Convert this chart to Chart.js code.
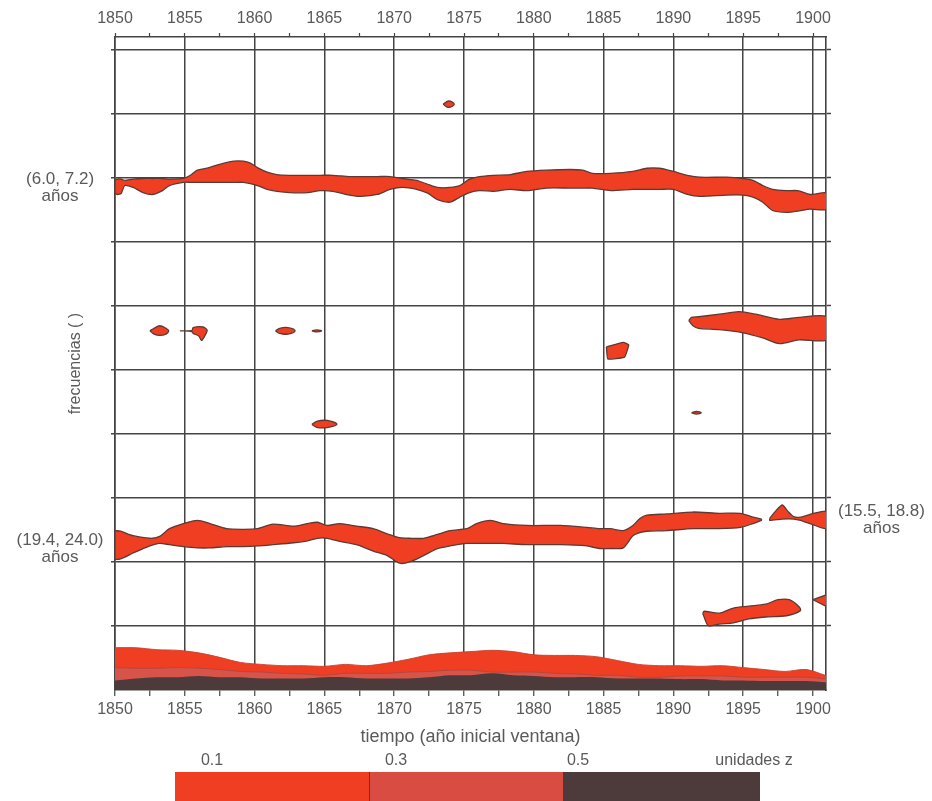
<!DOCTYPE html>
<html>
<head>
<meta charset="utf-8">
<script src="https://cdn.jsdelivr.net/npm/chart.js@4.4.1/dist/chart.umd.min.js"></script>
<style>
html,body{margin:0;padding:0;background:#fff;}
#wrap{position:relative;width:932px;height:801px;overflow:hidden;background:#fff;}
#c{position:absolute;left:0;top:0;}
.lbl{position:absolute;font-family:"Liberation Sans",Arial,sans-serif;font-size:16px;color:#5a5a5a;line-height:16px;transform:translate(-50%,-50%);white-space:nowrap;}
.seg{position:absolute;top:772px;height:40px;}
</style>
</head>
<body>
<div id="wrap">
<canvas id="c" width="932" height="801"></canvas>
<div class="seg" style="left:175px;width:194px;background:#f03e22"></div>
<div class="seg" style="left:369px;width:194px;background:#d84c42;border-left:1px solid #5a3a34"></div>
<div class="seg" style="left:563px;width:197px;background:#4d3a3a"></div>
<div class="lbl" style="left:212px;top:760px">0.1</div>
<div class="lbl" style="left:396px;top:760px">0.3</div>
<div class="lbl" style="left:578px;top:760px">0.5</div>
<div class="lbl" style="left:754px;top:760px">unidades z</div>
</div>
<script>
// ---------- axis ticks ----------
const xTickYears = [1850,1852.5,1855,1857.5,1860,1862.5,1865,1867.5,1870,1872.5,1875,1877.5,1880,1882.5,1885,1887.5,1890,1892.5,1895,1897.5,1900];
const xLabelYears = [1850,1855,1860,1865,1870,1875,1880,1885,1890,1895,1900];
const yGridValues = [1,2,3,4,5,6,7,8,9,10];
const leftLabelPos = [7.84, 2.21];
const leftLabels = [['(6.0, 7.2)','años'], ['(19.4, 24.0)','años']];
const rightLabelPos = [2.655];
const rightLabels = [['(15.5, 18.8)','años']];

// ---------- band (6.0, 7.2) años ----------
const yrs6 = [1850.0,1850.15,1850.45,1850.7,1851.3,1852.0,1852.7,1853.4,1853.9,1854.9,1855.4,1855.9,1856.6,1857.3,1858.5,1859.2,1859.7,1860.2,1860.9,1861.6,1862.5,1863.8,1864.7,1865.6,1866.8,1867.6,1868.8,1869.7,1870.6,1871.6,1872.4,1873.1,1874.0,1874.7,1875.4,1876.1,1877.1,1878.3,1879.5,1880.9,1882.6,1883.5,1884.2,1885.5,1887.1,1888.1,1889.0,1890.0,1891.0,1891.9,1893.8,1895.0,1895.7,1896.4,1897.1,1898.1,1898.9,1899.8,1901.0];
const up6 = [7.96,7.98,7.98,7.96,7.98,7.99,7.99,7.99,7.98,7.99,8.04,8.12,8.15,8.20,8.26,8.26,8.23,8.16,8.09,8.05,8.04,8.04,8.04,8.04,8.02,8.02,8.02,8.02,7.99,7.96,7.90,7.85,7.85,7.88,7.98,8.02,8.04,8.05,8.10,8.12,8.13,8.12,8.07,8.07,8.10,8.15,8.15,8.10,8.04,8.01,8.01,7.99,7.96,7.88,7.82,7.80,7.80,7.74,7.76];
const lo6 = [7.78,7.74,7.76,7.88,7.85,7.77,7.74,7.80,7.88,7.93,7.93,7.93,7.93,7.93,7.93,7.93,7.91,7.88,7.82,7.79,7.77,7.77,7.80,7.79,7.73,7.71,7.74,7.82,7.85,7.82,7.76,7.66,7.62,7.70,7.77,7.80,7.79,7.82,7.80,7.84,7.84,7.84,7.84,7.80,7.82,7.82,7.82,7.82,7.74,7.71,7.73,7.73,7.70,7.62,7.49,7.46,7.48,7.51,7.51];

// ---------- band (19.4, 24.0) años ----------
const yrs19 = [1850.0,1850.4,1851.3,1852.5,1853.2,1853.9,1854.9,1855.9,1856.8,1858.0,1859.2,1860.2,1861.3,1862.8,1863.8,1864.5,1865.2,1866.1,1867.3,1868.5,1869.5,1870.4,1871.1,1872.1,1873.1,1874.0,1875.2,1875.9,1876.9,1877.8,1879.5,1881.9,1883.8,1884.7,1885.5,1886.4,1887.1,1887.6,1888.1,1889.5,1891.4,1893.3,1894.8,1895.7,1896.3];
const up19 = [2.49,2.48,2.41,2.37,2.40,2.52,2.60,2.65,2.60,2.52,2.51,2.52,2.59,2.56,2.60,2.62,2.57,2.60,2.56,2.52,2.44,2.38,2.37,2.37,2.43,2.49,2.52,2.60,2.65,2.60,2.57,2.57,2.54,2.52,2.52,2.49,2.57,2.68,2.73,2.75,2.78,2.76,2.76,2.70,2.67];
const lo19 = [2.05,2.05,2.14,2.25,2.29,2.27,2.24,2.22,2.22,2.24,2.24,2.25,2.27,2.30,2.33,2.37,2.37,2.32,2.27,2.17,2.10,1.98,2.00,2.10,2.21,2.25,2.29,2.29,2.29,2.29,2.27,2.27,2.25,2.21,2.21,2.22,2.41,2.46,2.48,2.49,2.52,2.52,2.54,2.60,2.65];

// ---------- (15.5, 18.8) años patch ----------
const triX = [1896.9,1897.3,1897.8,1898.2,1898.6,1899.1,1899.9,1901.0,1901.0,1899.9,1899.1,1898.6,1897.8,1896.9];
const triY = [2.68,2.79,2.89,2.79,2.71,2.70,2.75,2.79,2.52,2.59,2.65,2.67,2.67,2.65];

// ---------- lower right patches ----------
const lowBlobX = [1892.1,1892.2,1893.3,1894.3,1895.4,1896.6,1897.5,1898.3,1899.0,1899.1,1898.1,1896.6,1895.4,1894.3,1893.3,1892.6,1892.4];
const lowBlobY = [1.20,1.23,1.20,1.28,1.31,1.34,1.41,1.41,1.30,1.24,1.16,1.14,1.11,1.05,1.03,1.00,1.03];
const wedgeX = [1900.0,1901.0,1901.0];
const wedgeY = [1.41,1.49,1.30];

// ---------- upper right patch and small islands ----------
const gX = [1891.1,1891.3,1891.8,1893.3,1894.7,1895.9,1897.6,1899.0,1901.0,1901.0,1899.0,1897.6,1896.4,1895.0,1893.3,1891.8,1891.4];
const gY = [5.77,5.82,5.83,5.87,5.91,5.87,5.79,5.82,5.83,5.47,5.47,5.41,5.50,5.58,5.63,5.65,5.69];
const fX = [1885.2,1886.4,1886.8,1886.5,1885.3];
const fY = [5.36,5.43,5.39,5.20,5.17];
const aX = [1852.5,1852.8,1853.2,1853.65,1853.85,1853.65,1853.2,1852.8];
const aY = [5.61,5.65,5.69,5.65,5.61,5.56,5.54,5.56];
const bX = [1854.65,1855.5,1855.6,1856.3,1856.6,1856.4,1856.2,1856.0,1855.6,1855.5];
const bY = [5.61,5.615,5.66,5.67,5.62,5.52,5.46,5.53,5.57,5.60];
const cX = [1861.5,1861.8,1862.4,1862.9,1862.4,1861.8];
const cY = [5.61,5.65,5.66,5.61,5.56,5.57];
const dX = [1864.1,1864.45,1864.8,1864.45];
const dY = [5.61,5.625,5.61,5.595];
const eX = [1864.1,1864.5,1865.2,1865.9,1865.2,1864.5];
const eY = [4.15,4.20,4.21,4.15,4.10,4.10];
const hX = [1891.3,1891.65,1892.0,1891.65];
const hY = [4.33,4.35,4.33,4.31];
const iX = [1873.5,1873.9,1874.3,1873.9];
const iY = [9.15,9.20,9.15,9.10];

// ---------- low-frequency band (three z levels) ----------
const yrsBase = [1850,1851.5,1853,1854.5,1856,1857.5,1859,1860.5,1862,1863.5,1865,1866.5,1868,1869.5,1871,1872.5,1874,1875.5,1877,1878.5,1880,1881.5,1883,1884.5,1886,1887.5,1889,1890.5,1892,1893.5,1895,1896.5,1898,1899.5,1901];
const redTop = [0.66,0.66,0.63,0.62,0.58,0.51,0.43,0.40,0.38,0.38,0.37,0.40,0.38,0.42,0.48,0.55,0.58,0.60,0.62,0.60,0.55,0.54,0.54,0.52,0.46,0.40,0.38,0.38,0.37,0.38,0.35,0.32,0.29,0.32,0.22];
const midTop = [0.35,0.34,0.34,0.35,0.34,0.32,0.29,0.28,0.26,0.25,0.23,0.26,0.26,0.26,0.28,0.29,0.31,0.31,0.28,0.28,0.28,0.26,0.25,0.23,0.23,0.20,0.20,0.22,0.22,0.22,0.20,0.20,0.20,0.20,0.17];
const darkTop = [0.15,0.18,0.20,0.20,0.22,0.20,0.20,0.18,0.18,0.18,0.20,0.20,0.18,0.18,0.18,0.20,0.23,0.23,0.26,0.23,0.22,0.20,0.20,0.20,0.18,0.18,0.18,0.17,0.17,0.15,0.15,0.14,0.14,0.14,0.12];

// ---------- styles ----------
const FONT = '"Liberation Sans", Arial, sans-serif';
const textColor = '#5a5a5a';
const gridColor = '#444444';
const redFill = '#f03e22';
const midFill = '#d8544a';
const darkFill = '#4d3a3a';
const edgeColor = '#5e3a32';
const clear = 'rgba(0,0,0,0)';

function pts(xs, ys) { return xs.map((x, i) => ({x: x, y: ys[i]})); }
function ring(xs, ys) { const p = pts(xs, ys); p.push({x: xs[0], y: ys[0]}); return p; }
function band(xs, up, lo) {
  const p = pts(xs, up);
  for (let i = xs.length - 1; i >= 0; i--) p.push({x: xs[i], y: lo[i]});
  p.push({x: xs[0], y: up[0]});
  return p;
}
function shape(data, tension) {
  return {data: data, fill: 'shape', backgroundColor: redFill, borderColor: edgeColor,
          borderWidth: 1.3, pointRadius: 0, tension: tension, order: 4};
}
function levelDs(xs, ys, color, order, bw, bc) {
  return {data: pts(xs, ys), fill: 'origin', backgroundColor: color, borderColor: bc || color,
          borderWidth: bw, pointRadius: 0, tension: 0.3, order: order};
}

const datasets = [
  levelDs(yrsBase, darkTop, darkFill, 1, 0),
  levelDs(yrsBase, midTop, midFill, 2, 1, '#b4473d'),
  levelDs(yrsBase, redTop, redFill, 3, 0.9, '#c4432e'),
  shape(band(yrs6, up6, lo6), 0.25),
  shape(band(yrs19, up19, lo19), 0.25),
  shape(ring(triX, triY), 0.2),
  shape(ring(lowBlobX, lowBlobY), 0.3),
  shape(ring(wedgeX, wedgeY), 0),
  shape(ring(gX, gY), 0.25),
  shape(ring(fX, fY), 0.1),
  shape(ring(aX, aY), 0.4),
  shape(ring(bX, bY), 0.3),
  shape(ring(cX, cY), 0.4),
  shape(ring(dX, dY), 0.4),
  shape(ring(eX, eY), 0.4),
  shape(ring(hX, hY), 0.4),
  shape(ring(iX, iY), 0.4)
];

const xTickFont = {family: FONT, size: 16};
function xTicksBuild(s) { s.ticks = xTickYears.map(v => ({value: v})); }
function xLabel(v) { return xLabelYears.includes(v) ? String(v) : ''; }

new Chart(document.getElementById('c'), {
  type: 'line',
  data: {datasets: datasets},
  options: {
    responsive: false,
    animation: false,
    devicePixelRatio: 1,
    events: [],
    layout: {padding: 0, autoPadding: false},
    plugins: {legend: {display: false}, tooltip: {enabled: false}},
    scales: {
      x: {
        type: 'linear', position: 'bottom', min: 1850, max: 1900.93, z: 1,
        afterBuildTicks: xTicksBuild,
        afterFit: s => { s.height = 111; },
        ticks: {autoSkip: false, maxRotation: 0, color: textColor, font: xTickFont, padding: 4.4, callback: xLabel},
        grid: {color: c => (c.tick && xLabelYears.includes(c.tick.value)) ? gridColor : clear,
               lineWidth: 1.5, drawTicks: true, tickLength: 6, tickColor: gridColor, tickWidth: 1.2},
        border: {display: true, color: gridColor, width: 1.6},
        title: {display: true, text: 'tiempo (año inicial ventana)', color: textColor,
                font: {family: FONT, size: 18}, padding: {top: 0, bottom: 53}}
      },
      x2: {
        type: 'linear', position: 'top', min: 1850, max: 1900.93, z: 1,
        afterBuildTicks: xTicksBuild,
        afterFit: s => { s.height = 37; },
        ticks: {autoSkip: false, maxRotation: 0, color: textColor, font: xTickFont, padding: 4.4, callback: xLabel},
        grid: {drawOnChartArea: false, drawTicks: true, tickLength: 4, tickColor: gridColor, tickWidth: 1.2},
        border: {display: true, color: gridColor, width: 1.6}
      },
      y: {
        type: 'linear', position: 'left', min: 0, max: 10.2, z: 1,
        afterBuildTicks: s => { s.ticks = yGridValues.concat(leftLabelPos).sort((a, b) => a - b).map(v => ({value: v})); },
        afterFit: s => { s.width = 115; },
        ticks: {autoSkip: false, color: textColor, crossAlign: 'center', padding: 7.5,
                font: {family: FONT, size: 17, lineHeight: 1},
                callback: v => { const k = leftLabelPos.indexOf(v); return k >= 0 ? leftLabels[k] : ''; }},
        grid: {color: c => (c.tick && yGridValues.includes(c.tick.value)) ? gridColor : clear,
               tickColor: c => (c.tick && yGridValues.includes(c.tick.value)) ? gridColor : clear,
               lineWidth: 1.5, drawTicks: true, tickLength: 4, tickWidth: 1.5},
        border: {display: true, color: gridColor, width: 1.6},
        title: {display: true, text: 'frecuencias ( )', color: textColor,
                font: {family: FONT, size: 16}, padding: {top: 66, bottom: 0}}
      },
      y2: {
        type: 'linear', position: 'right', min: 0, max: 10.2, z: 1,
        afterBuildTicks: s => { s.ticks = yGridValues.concat(rightLabelPos).sort((a, b) => a - b).map(v => ({value: v})); },
        afterFit: s => { s.width = 106; },
        ticks: {autoSkip: false, color: textColor, crossAlign: 'center', padding: 7,
                font: {family: FONT, size: 17, lineHeight: 1},
                callback: v => { const k = rightLabelPos.indexOf(v); return k >= 0 ? rightLabels[k] : ''; }},
        grid: {drawOnChartArea: false,
               tickColor: c => (c.tick && yGridValues.includes(c.tick.value)) ? gridColor : clear,
               drawTicks: true, tickLength: 5, tickWidth: 1.5},
        border: {display: true, color: gridColor, width: 1.6}
      }
    }
  }
});
</script>
</body>
</html>
